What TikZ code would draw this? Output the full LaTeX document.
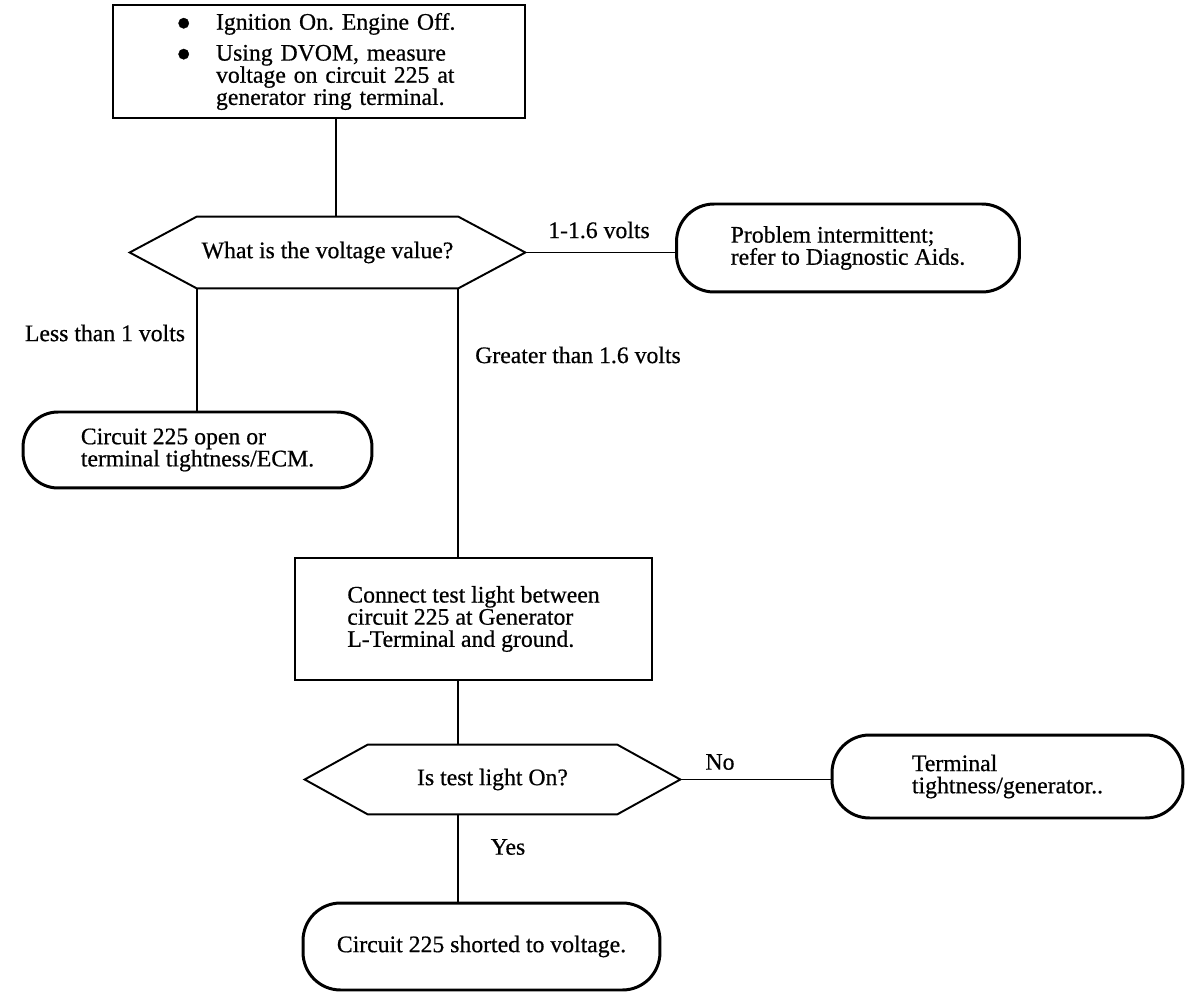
\documentclass[tikz,border=0pt]{standalone}
\usepackage{fontspec}
\setmainfont{Liberation Serif}[FakeBold=0.6]
\usepackage{tikz}
\usetikzlibrary{positioning}

\newcommand{\bigdot}{\makebox[0.8cm][l]{\smash{\raisebox{-4.6pt}{\fontsize{25}{12}\selectfont\textbullet}}}}

\begin{document}
\frenchspacing
\begin{tikzpicture}[x=0.02cm, y=-0.02cm,
    font=\fontsize{13.5}{12.6}\selectfont,
    stepbox/.style={draw, line width=1.1pt, inner sep=0pt, align=left},
    endbox/.style={draw, line width=1.7pt, rounded corners=0.75cm, inner sep=0pt, align=left},
    choice/.style={inner sep=0pt},
    link/.style={line width=1.1pt},
    lbl/.style={inner sep=0pt}]

    \useasboundingbox (0,0) rectangle (1200,1006);

    % Start box
    \node[stepbox, minimum width=8.24cm, minimum height=2.26cm, text width=5.72cm, inner xsep=1.26cm] (start) at (319,61.5)
        {\bigdot Ignition On. Engine Off.\\[5pt]
         \bigdot Using DVOM, measure\\
         \hspace*{0.8cm}voltage on circuit 225 at\\
         \hspace*{0.8cm}generator ring terminal.};

    % First question
    \node[choice, minimum width=7.9cm, minimum height=1.42cm] (q1) at (327.5,252.5) {What is the voltage value?};
    \draw[link] (q1.west) -- ([xshift=1.34cm]q1.north west) -- ([xshift=-1.34cm]q1.north east) -- (q1.east)
        -- ([xshift=-1.34cm]q1.south east) coordinate (q1-se) -- ([xshift=1.34cm]q1.south west) coordinate (q1-sw) -- cycle;

    % Results of first question
    \node[endbox, minimum width=6.86cm, minimum height=1.76cm] (aids) at (848,248) {Problem intermittent;\\refer to Diagnostic Aids.};
    \node[endbox, rounded corners=0.7cm, minimum width=6.98cm, minimum height=1.52cm] (open) at (197.5,450) {Circuit 225 open or\\terminal tightness/ECM.};
    \node[stepbox, minimum width=7.14cm, minimum height=2.44cm] (test) at (473.5,619) {Connect test light between\\circuit 225 at Generator\\L-Terminal and ground.};

    % Second question
    \node[choice, minimum width=7.5cm, minimum height=1.38cm] (q2) at (492.5,779.5) {Is test light On?};
    \draw[link] (q2.west) -- ([xshift=1.26cm]q2.north west) -- ([xshift=-1.26cm]q2.north east) -- (q2.east)
        -- ([xshift=-1.26cm]q2.south east) -- ([xshift=1.26cm]q2.south west) -- cycle;

    % Results of second question
    \node[endbox, minimum width=7.02cm, minimum height=1.66cm] (terminal) at (1007.5,776.5) {Terminal\\tightness/generator..};
    \node[endbox, minimum width=7.14cm, minimum height=1.74cm] (shorted) at (481.5,946.5) {Circuit 225 shorted to voltage.};

    % Connectors
    \draw[link] ([xshift=0.34cm]start.south) -- ([xshift=0.34cm]start.south |- q1.north);
    \draw[link] (q1.east) -- (aids.west |- q1.east);
    \draw[link] (q1-sw) -- (q1-sw |- open.north);
    \draw[link] (q1-se) -- (q1-se |- test.north);
    \draw[link] (test.south -| q1-se) -- (q2.north -| q1-se);
    \draw[link] (q2.east) -- (terminal.west |- q2.east);
    \draw[link] (q2.south -| q1-se) -- (q1-se |- shorted.north);

    % Labels
    \node[lbl] (l-mid) at (599,230) {1-1.6 volts};
    \node[lbl] (l-less) at (105,333) {Less than 1 volts};
    \node[lbl] (l-more) at (578,355) {Greater than 1.6 volts};
    \node[lbl] (l-no) at (720,762) {No};
    \node[lbl] (l-yes) at (508,847) {Yes};
\end{tikzpicture}
\end{document}
